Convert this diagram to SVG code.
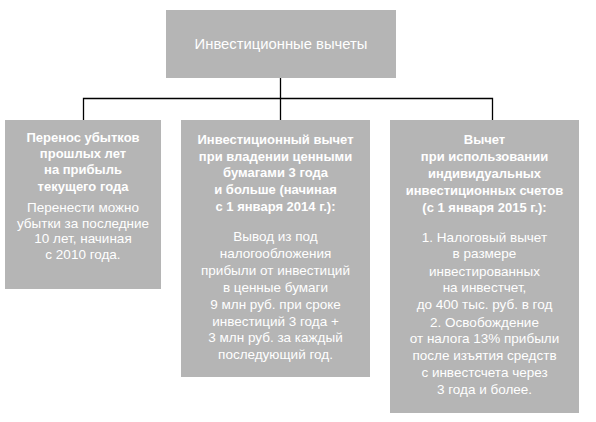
<svg xmlns="http://www.w3.org/2000/svg" width="596" height="422" viewBox="0 0 596 422">
<style>
.box{fill:#b5b5b5;}
.t{font-family:"Liberation Sans","Open Sans",sans-serif;fill:#ffffff;text-anchor:middle;font-size:13.5px;}
.b{font-weight:bold;font-size:13px;}
.c{stroke:#000;stroke-width:1.3;fill:none;}
</style>
<rect width="596" height="422" fill="#ffffff"/>
<g id="connectors">
<path class="c" d="M280.5 78 V120 M83.5 120 V98.5 H492.5 V120"/>
</g>
<g id="root">
<rect class="box" x="166" y="10" width="230" height="68"/>
<text class="t" x="281" y="49" style="font-size:14.8px">Инвестиционные вычеты</text>
</g>
<g id="node1">
<rect class="box" x="5" y="120" width="156" height="169"/>
<text class="t b" x="83" y="142">Перенос убытков</text>
<text class="t b" x="83" y="158">прошлых лет</text>
<text class="t b" x="83" y="174">на прибыль</text>
<text class="t b" x="83" y="190.5">текущего года</text>
<text class="t" x="83" y="212">Перенести можно</text>
<text class="t" x="83" y="227.5">убытки за последние</text>
<text class="t" x="83" y="243">10 лет, начиная</text>
<text class="t" x="83" y="258.5">с 2010 года.</text>
</g>
<g id="node2">
<rect class="box" x="181" y="120" width="189" height="257"/>
<text class="t b" x="275.5" y="144">Инвестиционный вычет</text>
<text class="t b" x="275.5" y="160.5">при владении ценными</text>
<text class="t b" x="275.5" y="177">бумагами 3 года</text>
<text class="t b" x="275.5" y="193.5">и больше (начиная</text>
<text class="t b" x="275.5" y="210.5">с 1 января 2014 г.):</text>
<text class="t" x="275.5" y="241">Вывод из под</text>
<text class="t" x="275.5" y="257.5">налогообложения</text>
<text class="t" x="275.5" y="275">прибыли от инвестиций</text>
<text class="t" x="275.5" y="291.5">в ценные бумаги</text>
<text class="t" x="275.5" y="308.5">9 млн руб. при сроке</text>
<text class="t" x="275.5" y="325.5">инвестиций 3 года +</text>
<text class="t" x="275.5" y="342">3 млн руб. за каждый</text>
<text class="t" x="275.5" y="359">последующий год.</text>
</g>
<g id="node3">
<rect class="box" x="390" y="120" width="189" height="293"/>
<text class="t b" x="484.5" y="143.5">Вычет</text>
<text class="t b" x="484.5" y="160.5">при использовании</text>
<text class="t b" x="484.5" y="177.5">индивидуальных</text>
<text class="t b" x="484.5" y="195">инвестиционных счетов</text>
<text class="t b" x="484.5" y="212">(с 1 января 2015 г.):</text>
<text class="t" x="484.5" y="242">1. Налоговый вычет</text>
<text class="t" x="484.5" y="257.5">в размере</text>
<text class="t" x="484.5" y="275.5">инвестированных</text>
<text class="t" x="484.5" y="291.5">на инвестчет,</text>
<text class="t" x="484.5" y="309">до 400 тыс. руб. в год</text>
<text class="t" x="484.5" y="326.5">2. Освобождение</text>
<text class="t" x="484.5" y="343">от налога 13% прибыли</text>
<text class="t" x="484.5" y="360">после изъятия средств</text>
<text class="t" x="484.5" y="376.5">с инвестсчета через</text>
<text class="t" x="484.5" y="393.5">3 года и более.</text>
</g>
</svg>
